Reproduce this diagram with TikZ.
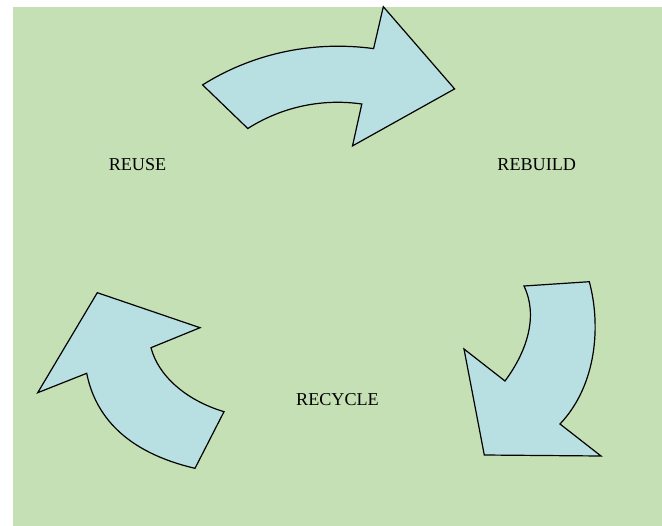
\documentclass[tikz,border=0pt]{standalone}
\usepackage{fontspec}
\setmainfont{Liberation Serif}
\definecolor{bggreen}{HTML}{C5E0B4}
\definecolor{arrowblue}{HTML}{B8DFE2}
\tikzset{
  cyclearrow/.style={draw=black, fill=arrowblue, line width=0.9pt, line join=miter},
  lbl/.style={anchor=base, inner sep=0pt, font=\fontsize{13.6}{16}\selectfont}
}
\begin{document}
\begin{tikzpicture}[x=0.75pt, y=-0.75pt]
  \useasboundingbox (0,0) rectangle (662,526);
  \fill[white] (0,0) rectangle (662,526);
  \fill[bggreen] (13,7) rectangle (662,526);
  % top arrow: reuse -> rebuild
  \draw[cyclearrow] (202.6,84.9) .. controls (250,55) and (310,40) .. (373.6,48.6)
    -- (383.3,6.7) -- (454.6,88.9) -- (352.5,145.9) -- (361.8,104)
    .. controls (320,98) and (280,108) .. (247.8,128.5) -- cycle;
  % right arrow: rebuild -> recycle
  \draw[cyclearrow] (524,286) -- (589.3,281.7)
    .. controls (601,325) and (597,385) .. (560,424)
    -- (601,456) -- (484.3,455) -- (464,349) -- (505,381)
    .. controls (528,350) and (538,315) .. (524,286) -- cycle;
  % left arrow: recycle -> reuse
  \draw[cyclearrow] (195,468.3) -- (224,411.7)
    .. controls (185,400) and (158,375) .. (151,347.7)
    -- (200,327.7) -- (97.3,292.7) -- (37.7,392.7) -- (86.7,373.3)
    .. controls (95,415) and (125,452) .. (195,468.3) -- cycle;
  % labels
  \node[lbl] (reuse) at (137.5,170) {REUSE};
  \node[lbl] (rebuild) at (536.7,170) {REBUILD};
  \node[lbl] (recycle) at (337.5,405) {RECYCLE};
\end{tikzpicture}
\end{document}
